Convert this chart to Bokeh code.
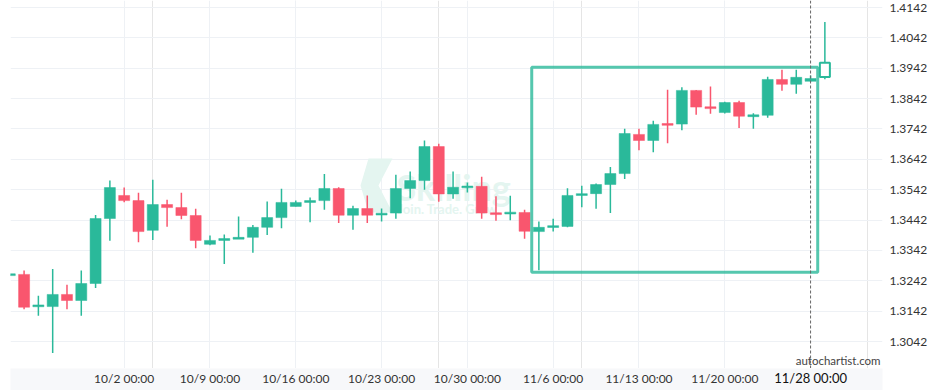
from bokeh.plotting import figure
from bokeh.layouts import column
from bokeh.models import (Range1d, FixedTicker, Label, BoxAnnotation, Span, Grid,
                          PolyAnnotation, ColumnDataSource, PrintfTickFormatter)
from bokeh.core.properties import value
from bokeh.embed import file_html
from bokeh.resources import INLINE

# ---- data (daily candles, index based) ----
opens = [1.3260, 1.3263, 1.3159, 1.3157, 1.3197, 1.3177, 1.3233, 1.3447, 1.3523, 1.3506,
         1.3408, 1.3493, 1.3483, 1.3457, 1.3362, 1.3375, 1.3380, 1.3385, 1.3418, 1.3450,
         1.3487, 1.3500, 1.3506, 1.3546, 1.3458, 1.3480, 1.3460, 1.3465, 1.3546, 1.3572,
         1.3684, 1.3528, 1.3550, 1.3553, 1.3464, 1.3464, 1.3467, 1.3404, 1.3418, 1.3421,
         1.3525, 1.3529, 1.3559, 1.3595, 1.3724, 1.3704, 1.3758, 1.3758, 1.3869, 1.3813,
         1.3796, 1.3829, 1.3784, 1.3787, 1.3905, 1.3889, 1.3899, 1.3913]
highs = [1.3266, 1.3276, 1.3193, 1.3281, 1.3229, 1.3276, 1.3459, 1.3572, 1.3549, 1.3532,
         1.3575, 1.3509, 1.3532, 1.3479, 1.3391, 1.3394, 1.3454, 1.3426, 1.3503, 1.3545,
         1.3506, 1.3516, 1.3594, 1.3550, 1.3489, 1.3523, 1.3480, 1.3591, 1.3602, 1.3704,
         1.3693, 1.3602, 1.3566, 1.3585, 1.3520, 1.3522, 1.3476, 1.3437, 1.3446, 1.3547,
         1.3555, 1.3562, 1.3617, 1.3743, 1.3743, 1.3769, 1.3871, 1.3879, 1.3870, 1.3882,
         1.3832, 1.3835, 1.3794, 1.3914, 1.3937, 1.3937, 1.3918, 1.4094]
lows = [1.3258, 1.3148, 1.3127, 1.3004, 1.3148, 1.3127, 1.3218, 1.3374, 1.3501, 1.3369,
        1.3376, 1.3420, 1.3445, 1.3349, 1.3359, 1.3297, 1.3380, 1.3334, 1.3393, 1.3415,
        1.3487, 1.3435, 1.3476, 1.3432, 1.3410, 1.3432, 1.3437, 1.3446, 1.3514, 1.3542,
        1.3502, 1.3512, 1.3533, 1.3446, 1.3440, 1.3441, 1.3380, 1.3277, 1.3404, 1.3418,
        1.3484, 1.3479, 1.3465, 1.3577, 1.3672, 1.3665, 1.3695, 1.3738, 1.3789, 1.3792,
        1.3793, 1.3745, 1.3743, 1.3779, 1.3868, 1.3858, 1.3898, 1.3906]
closes = [1.3264, 1.3155, 1.3160, 1.3197, 1.3177, 1.3233, 1.3447, 1.3549, 1.3506, 1.3404,
          1.3493, 1.3483, 1.3457, 1.3375, 1.3375, 1.3381, 1.3384, 1.3418, 1.3450, 1.3500,
          1.3500, 1.3506, 1.3546, 1.3458, 1.3480, 1.3458, 1.3463, 1.3546, 1.3572, 1.3684,
          1.3528, 1.3550, 1.3552, 1.3465, 1.3462, 1.3466, 1.3405, 1.3418, 1.3423, 1.3523,
          1.3527, 1.3559, 1.3595, 1.3727, 1.3704, 1.3757, 1.3756, 1.3869, 1.3814, 1.3811,
          1.3829, 1.3784, 1.3787, 1.3905, 1.3889, 1.3912, 1.3908, 1.3960]

tick_index = [8, 14, 20, 26, 32, 38, 44, 50]
tick_labels = ["10/2 00:00", "10/9 00:00", "10/16 00:00", "10/23 00:00", "10/30 00:00",
               "11/6 00:00", "11/13 00:00", "11/20 00:00"]
current_index = 56
current_label = "11/28 00:00"
y_ticks = [1.3042, 1.3142, 1.3242, 1.3342, 1.3442, 1.3542, 1.3642, 1.3742, 1.3842, 1.3942, 1.4042, 1.4142]

pattern_left, pattern_right = 36.5, 56.5
pattern_bottom, pattern_top = 1.3270, 1.3945

GREEN = "#2ab99a"
RED = "#f9566e"
FONT = "Lato"
GRID = "#eef1f5"

n = len(opens)
xs = list(range(n))
colors = [GREEN if c >= o else RED for o, c in zip(opens, closes)]
min_body = 0.0006
tops, bottoms = [], []
for o, c in zip(opens, closes):
    t, b = max(o, c), min(o, c)
    if t - b < min_body:
        m = (t + b) / 2
        t, b = m + min_body / 2, m - min_body / 2
    tops.append(t)
    bottoms.append(b)

last = n - 1
src = ColumnDataSource(dict(x=xs[:last], h=highs[:last], l=lows[:last],
                            top=tops[:last], bottom=bottoms[:last], color=colors[:last]))
src_last = ColumnDataSource(dict(x=[xs[last]], h=[highs[last]], l=[lows[last]],
                                 top=[tops[last]], bottom=[bottoms[last]]))

x0, x1 = 0.05, 61.03
PX_PER_UNIT = 3036.4
TOP_PX = 7            # pixel row of the top y tick
y1 = y_ticks[-1] + TOP_PX / PX_PER_UNIT
y0 = y_ticks[-1] - (368 - TOP_PX) / PX_PER_UNIT

p = figure(width=936, height=368, output_backend="svg", toolbar_location=None,
           x_range=Range1d(x0, x1), y_range=Range1d(y0, y1),
           x_axis_location=None, y_axis_location="right",
           min_border_left=10, min_border_right=54, min_border_top=0, min_border_bottom=0)
p.outline_line_color = None
p.background_fill_color = "white"
p.border_fill_color = "white"


def px_to_x(px):
    return x0 + (px - 10) / 872 * (x1 - x0)


def py_to_y(py):
    return y1 - py / 368 * (y1 - y0)


# grid
p.add_layout(Grid(dimension=0, ticker=FixedTicker(ticks=tick_index), grid_line_color=GRID))
p.ygrid.grid_line_color = GRID

# watermark
chev_x = [368, 392, 378, 392, 368, 360]
chev_y = [158, 158, 185, 212, 212, 185]
p.add_layout(PolyAnnotation(xs=[px_to_x(v) for v in chev_x], ys=[py_to_y(v) for v in chev_y],
                            fill_color="#e4f5f0", fill_alpha=1, line_color=None, level="underlay"))
p.add_layout(Label(x=px_to_x(396), y=py_to_y(186), text="Skilling", text_font=FONT,
                   text_font_style="bold", text_font_size="36px", text_color="#e4f5f0",
                   text_baseline="alphabetic", level="underlay"))
p.add_layout(Label(x=px_to_x(397), y=py_to_y(208), text="Join. Trade. Grow.", text_font=FONT,
                   text_font_style="bold", text_font_size="13px", text_color="#e4f5f0",
                   text_baseline="alphabetic", level="underlay"))

# candles
p.segment(x0="x", y0="h", x1="x", y1="l", color="color", line_width=1.5, source=src)
p.vbar(x="x", top="top", bottom="bottom", width=0.77, fill_color="color", line_color="color",
       line_width=0.5, source=src)
p.segment(x0="x", y0="h", x1="x", y1="l", color=GREEN, line_width=1.5, source=src_last)
p.vbar(x="x", top="top", bottom="bottom", width=0.7, fill_color="white", line_color=GREEN,
       line_width=2, source=src_last)

# pattern box and current time line
p.add_layout(BoxAnnotation(left=pattern_left, right=pattern_right, bottom=pattern_bottom,
                           top=pattern_top, fill_alpha=0, line_color=GREEN, line_width=3,
                           line_alpha=0.8))
p.add_layout(Span(location=current_index, dimension="height", line_color="#666666",
                  line_dash="3 2", line_width=1))

p.yaxis.ticker = FixedTicker(ticks=y_ticks)
p.yaxis.formatter = PrintfTickFormatter(format="%.4f")
p.yaxis.axis_line_color = None
p.yaxis.major_tick_line_color = None
p.yaxis.minor_tick_line_color = None
p.yaxis.major_label_standoff = 1
p.yaxis.major_label_text_font = FONT
p.yaxis.major_label_text_font_size = "12px"
p.yaxis.major_label_text_color = "#333333"

p.text(x=[px_to_x(880)], y=[py_to_y(360)], text=["autochartist.com"], text_font=value(FONT),
       text_font_size="11.5px", text_color="#444444", text_align="right", text_baseline="middle")

# time axis band
p2 = figure(width=936, height=22, output_backend="svg", toolbar_location=None,
            x_range=p.x_range, y_range=Range1d(0, 1),
            x_axis_location=None, y_axis_location=None,
            min_border_left=10, min_border_right=54, min_border_top=0, min_border_bottom=0)
p2.outline_line_color = None
p2.grid.visible = False
p2.background_fill_color = "#f7f8fa"
p2.border_fill_color = "white"
p2.text(x=tick_index, y=[0.55] * len(tick_index), text=tick_labels, text_font=value(FONT),
        text_font_size="12px", text_color="#333333", text_align="center", text_baseline="middle")
p2.text(x=[current_index], y=[0.55], text=[current_label], text_font=value(FONT),
        text_font_size="13px", text_color="#111111", text_align="center", text_baseline="middle")

layout = column(p, p2, spacing=0)
open("out.html", "w").write(file_html(layout, INLINE))
